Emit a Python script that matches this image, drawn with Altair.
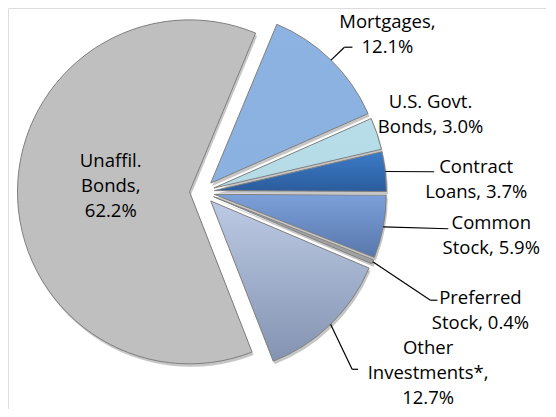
import altair as alt
import pandas as pd

# ---- data ----
categories = ["Mortgages", "U.S. Govt. Bonds", "Contract Loans", "Common Stock",
              "Preferred Stock", "Other Investments*", "Unaffil. Bonds"]
shares = [12.1, 3.0, 3.7, 5.9, 0.4, 12.7, 62.2]
label_prefix = ["Mortgages,\n", "U.S. Govt.\nBonds, ", "Contract\nLoans, ", "Common\nStock, ",
                "Preferred\nStock, ", "Other\nInvestments*,\n", "Unaffil.\nBonds,\n"]

# ---- styles ----
top_colors = ["#8db3e2", "#b7dde8", "#3b7bc8", "#7ca0da", "#a6a6a6", "#bccae4", "#bfbfbf"]
bottom_colors = ["#8bb1e0", "#b5dbe6", "#2b5c9c", "#5877ac", "#a0a0a0", "#8393b1", "#bfbfbf"]

# ---- label layout (polar, relative to each exploded slice centre) ----
label_radius = [230.7, 229, 262, 280, 290, 277.1, 79]
label_nudge_deg = [5.6, -0.4, 4.0, -2.5, 0.8, -7.5, 3.8]
has_leader = [1, 0, 1, 1, 1, 1, 0]
leader_end_dx = [-35, 0, -42, -43, -43, -70, 0]
leader_end_dy = [12.5, 0, -8, -6.5, -10, -3.5, 0]
leader_run = [8, 0, 0, 0, 7, 6, 0]

CX, CY = 194, 184        # pie centre in plot pixels
R = 172                  # pie radius
EXPLODE = 12.5           # explosion distance
START = 22.6             # start angle in degrees (clockwise from 12 o'clock)
LH = 25                  # label line height

df = pd.DataFrame({
    "order": list(range(len(categories))),
    "category": categories,
    "share": shares,
    "label": [p + f"{v:.1f}%" for p, v in zip(label_prefix, shares)],
    "lr": label_radius,
    "lnudge": label_nudge_deg,
    "leader": has_leader,
    "edx": leader_end_dx,
    "edy": leader_end_dy,
    "run": leader_run,
})

base = (
    alt.Chart(df)
    .transform_window(cum="sum(share)", sort=[alt.SortField("order")], frame=[None, 0])
    .transform_joinaggregate(total="sum(share)")
    .transform_calculate(
        a0=f"{START}*PI/180 + 2*PI*(datum.cum - datum.share)/datum.total",
        a1=f"{START}*PI/180 + 2*PI*datum.cum/datum.total",
    )
    .transform_calculate(mid="(datum.a0 + datum.a1)/2")
    .transform_calculate(
        cx=f"{CX} + {EXPLODE}*sin(datum.mid)",
        cy=f"{CY} - {EXPLODE}*cos(datum.mid)",
    )
    .transform_calculate(
        shx="datum.cx + 1.5",
        shy="datum.cy + 3",
        sx=f"datum.cx + {R}*sin(datum.mid)",
        sy=f"datum.cy - {R}*cos(datum.mid)",
        lx="datum.cx + datum.lr*sin(datum.mid + datum.lnudge*PI/180)",
        ly="datum.cy - datum.lr*cos(datum.mid + datum.lnudge*PI/180)",
        nl="split(datum.label, '\\n').length",
    )
    .transform_calculate(
        ex="datum.lx + datum.edx",
        ey="datum.ly + datum.edy",
        ty=f"datum.ly - (datum.nl - 1)*{LH}/2",
    )
    .transform_calculate(kx="datum.ex - datum.run")
)

theta_enc = dict(
    theta=alt.Theta("a0:Q", scale=None, stack=False),
    theta2=alt.Theta2("a1:Q"),
)

shadow = base.mark_arc(radius=R, fill="#b8b8b8", opacity=0.8).encode(
    x=alt.X("shx:Q", scale=None, axis=None),
    y=alt.Y("shy:Q", scale=None, axis=None),
    **theta_enc,
)

layers = [shadow]
for cat, top, bot in zip(categories, top_colors, bottom_colors):
    grad = alt.LinearGradient(
        gradient="linear",
        stops=[alt.GradientStop(color=top, offset=0), alt.GradientStop(color=bot, offset=1)],
        x1=0, x2=0, y1=0, y2=1,
    )
    layers.append(
        base.transform_filter(alt.datum.category == cat)
        .mark_arc(radius=R, fill=grad, stroke="#7f7f7f", strokeWidth=1)
        .encode(
            x=alt.X("cx:Q", scale=None, axis=None),
            y=alt.Y("cy:Q", scale=None, axis=None),
            **theta_enc,
        )
    )

leaders = base.transform_filter("datum.leader == 1")
seg1 = leaders.mark_rule(color="#000000", strokeWidth=1.2).encode(
    x=alt.X("sx:Q", scale=None), y=alt.Y("sy:Q", scale=None),
    x2="kx:Q", y2="ey:Q",
)
seg2 = leaders.transform_filter("datum.run > 0").mark_rule(color="#000000", strokeWidth=1.2).encode(
    x=alt.X("kx:Q", scale=None), y=alt.Y("ey:Q", scale=None),
    x2="ex:Q", y2="ey:Q",
)

labels = base.mark_text(
    font="Open Sans", fontSize=18.5, lineHeight=LH, lineBreak="\n",
    align="center", baseline="middle", color="#000000",
).encode(
    x=alt.X("lx:Q", scale=None), y=alt.Y("ty:Q", scale=None), text="label:N",
)

layers += [seg1, seg2, labels]

chart = (
    alt.layer(*layers)
    .properties(width=538, height=401, autosize=alt.AutoSizeParams(type="none"), padding=0)
    .configure_view(stroke=None)
    .configure(background="#ffffff")
)

chart.save("out.html", embed_options={"renderer": "svg", "actions": False})
